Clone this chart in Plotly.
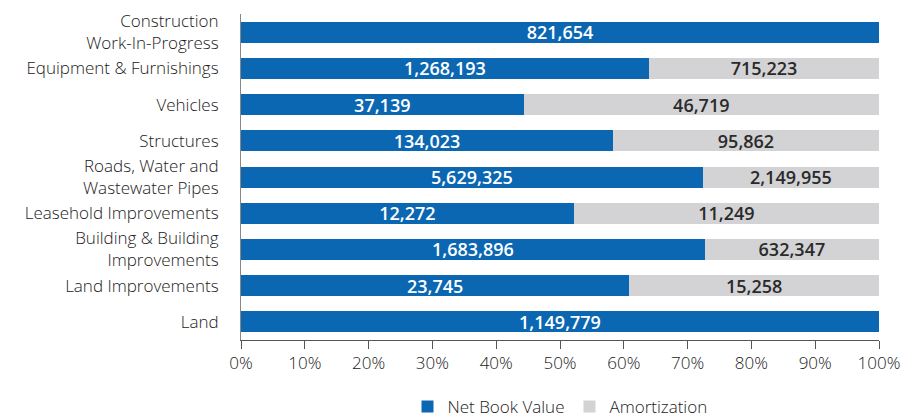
import plotly.graph_objects as go

categories = [
    "Land",
    "Land Improvements",
    "Building & Building<br>Improvements",
    "Leasehold Improvements",
    "Roads, Water and<br>Wastewater Pipes",
    "Structures",
    "Vehicles",
    "Equipment & Furnishings",
    "Construction<br>Work-In-Progress",
]
net_book_value = [1149779, 23745, 1683896, 12272, 5629325, 134023, 37139, 1268193, 821654]
amortization = [0, 15258, 632347, 11249, 2149955, 95862, 46719, 715223, 0]

blue = "#0b67b2"
grey = "#d3d3d5"

amort_text = [f"{v:,}" if v else "" for v in amortization]

fig = go.Figure()
fig.add_trace(go.Bar(
    y=categories, x=net_book_value, orientation="h", name="Net Book Value",
    marker=dict(color=blue, line=dict(width=0)),
    text=[f"{v:,}" for v in net_book_value], textposition="inside",
    insidetextanchor="middle",
    textfont=dict(color="white", size=18, family="Open Sans", weight=600),
))
fig.add_trace(go.Bar(
    y=categories, x=amortization, orientation="h", name="Amortization",
    marker=dict(color=grey, line=dict(width=0)),
    text=amort_text, textposition="inside", insidetextanchor="middle",
    textfont=dict(color="#2a2a2a", size=18, family="Open Sans", weight=600),
))

fig.update_layout(
    width=913, height=417,
    barmode="stack", barnorm="percent", bargap=0.42,
    margin=dict(l=233, r=42, t=6, b=85),
    plot_bgcolor="white", paper_bgcolor="white",
    font=dict(family="Open Sans", size=17, color="#1a1a1a", weight=300),
    uniformtext=dict(mode="show", minsize=16),
    legend=dict(orientation="h", x=0.5, xanchor="center",
                yref="container", y=0.043, yanchor="middle",
                font=dict(size=17), traceorder="normal"),
    xaxis=dict(range=[0, 100], tickvals=list(range(0, 101, 10)),
               ticktext=[f"{v}%" for v in range(0, 101, 10)],
               showgrid=False, zeroline=False, showline=True, linecolor="#555",
               ticks="outside", ticklen=8, tickcolor="#555", tickfont=dict(size=17),
               automargin=False),
    yaxis=dict(showgrid=False, showline=True, linecolor="#888", ticks="",
               ticklabelstandoff=18, tickfont=dict(size=17), automargin=False),
)

fig.write_html("out.html")
